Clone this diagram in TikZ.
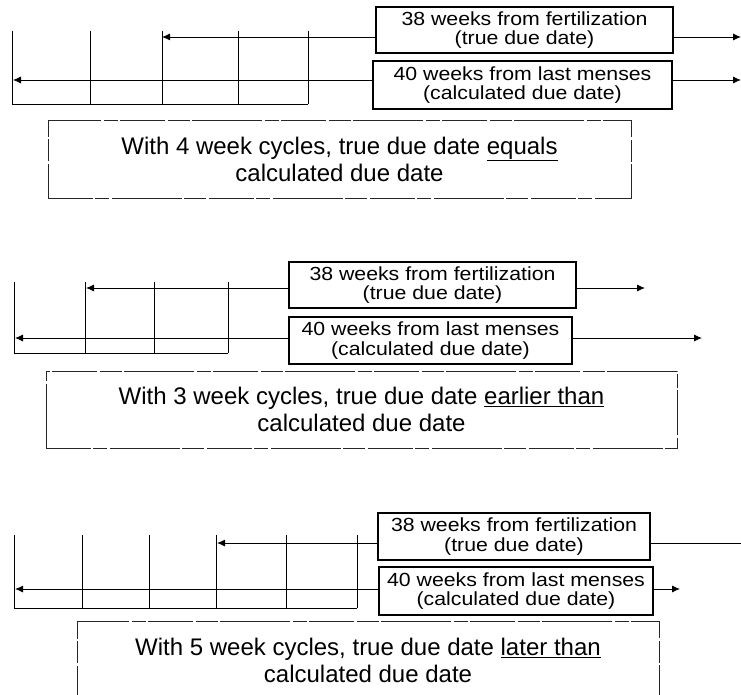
\documentclass[tikz,border=0pt]{standalone}
\usepackage{fontspec}
\setmainfont{Liberation Sans}
\newfontfamily\boxfont{Liberation Sans}[FakeStretch=1.12]
\usetikzlibrary{arrows.meta}
\begin{document}
\begin{tikzpicture}[x=1pt,y=-1pt,
  wk/.style={draw=black,line width=1.1pt,inner sep=0pt,align=center,
    font={\boxfont\fontsize{19}{19.5}\selectfont}},
  capbox/.style={draw=black!85,line width=0.8pt,
    dash pattern=on 45pt off 2pt on 14pt off 3pt on 70pt off 2pt on 22pt off 3pt,
    inner sep=0pt,align=center,font={\fontsize{24}{27}\selectfont}},
  ln/.style={line width=0.9pt},
  arr/.style={ln,-{Latex[length=8pt,width=7pt]}}]
\useasboundingbox (0,0) rectangle (741,695);
\fill[white] (0,0) rectangle (741,695);
\clip (0,0) rectangle (741,695);

% ---------- panel 1 ----------
\node[wk,minimum width=297pt,minimum height=46pt] (b1a) at (524.5,30)
  {38 weeks from fertilization\\(true due date)};
\node[wk,minimum width=299pt,minimum height=48pt] (b1b) at (522.5,85)
  {40 weeks from last menses\\(calculated due date)};
\node[capbox,minimum width=583pt,minimum height=78pt] (c1) at (339.5,159)
  {With 4 week cycles, true due date \underline{equals}\\calculated due date};
\foreach \x in {12,90,162,238,308} \draw[ln] (\x,31) -- (\x,104);
\draw[ln] (12,104) -- (308,104);
\coordinate (p1u) at (162,37);
\coordinate (p1ur) at (741,37);
\coordinate (p1l) at (13,80);
\coordinate (p1lr) at (741,80);
\draw[arr] (b1a.west |- p1u) -- (p1u);
\draw[arr] (b1a.east |- p1ur) -- (p1ur);
\draw[arr] (b1b.west |- p1l) -- (p1l);
\draw[arr] (b1b.east |- p1lr) -- (p1lr);

% ---------- panel 2 ----------
\node[wk,minimum width=287pt,minimum height=46pt] (b2a) at (432.5,285)
  {38 weeks from fertilization\\(true due date)};
\node[wk,minimum width=283pt,minimum height=47pt] (b2b) at (430.5,340.5)
  {40 weeks from last menses\\(calculated due date)};
\node[capbox,minimum width=631pt,minimum height=77pt] (c2) at (361.5,409.5)
  {With 3 week cycles, true due date \underline{earlier than}\\calculated due date};
\foreach \x in {14,85,154,228} \draw[ln] (\x,282) -- (\x,353);
\draw[ln] (14,353) -- (228,353);
\coordinate (p2u) at (86,288);
\coordinate (p2ur) at (645,288);
\coordinate (p2l) at (15,338);
\coordinate (p2lr) at (702,338);
\draw[arr] (b2a.west |- p2u) -- (p2u);
\draw[arr] (b2a.east |- p2ur) -- (p2ur);
\draw[arr] (b2b.west |- p2l) -- (p2l);
\draw[arr] (b2b.east |- p2lr) -- (p2lr);

% ---------- panel 3 ----------
\node[wk,minimum width=272pt,minimum height=47pt] (b3a) at (514,536.5)
  {38 weeks from fertilization\\(true due date)};
\node[wk,minimum width=274pt,minimum height=48pt] (b3b) at (516,591)
  {40 weeks from last menses\\(calculated due date)};
\node[capbox,minimum width=582pt,minimum height=79pt] (c3) at (368,660.5)
  {With 5 week cycles, true due date \underline{later than}\\calculated due date};
\foreach \x in {14,82,149,216,286,357} \draw[ln] (\x,535) -- (\x,608);
\draw[ln] (14,608) -- (357,608);
\coordinate (p3u) at (217,543);
\coordinate (p3ur) at (741,543);
\coordinate (p3l) at (15,589);
\coordinate (p3lr) at (680,589);
\draw[arr] (b3a.west |- p3u) -- (p3u);
\draw[ln] (b3a.east |- p3ur) -- (p3ur);
\draw[arr] (b3b.west |- p3l) -- (p3l);
\draw[arr] (b3b.east |- p3lr) -- (p3lr);
\end{tikzpicture}
\end{document}
